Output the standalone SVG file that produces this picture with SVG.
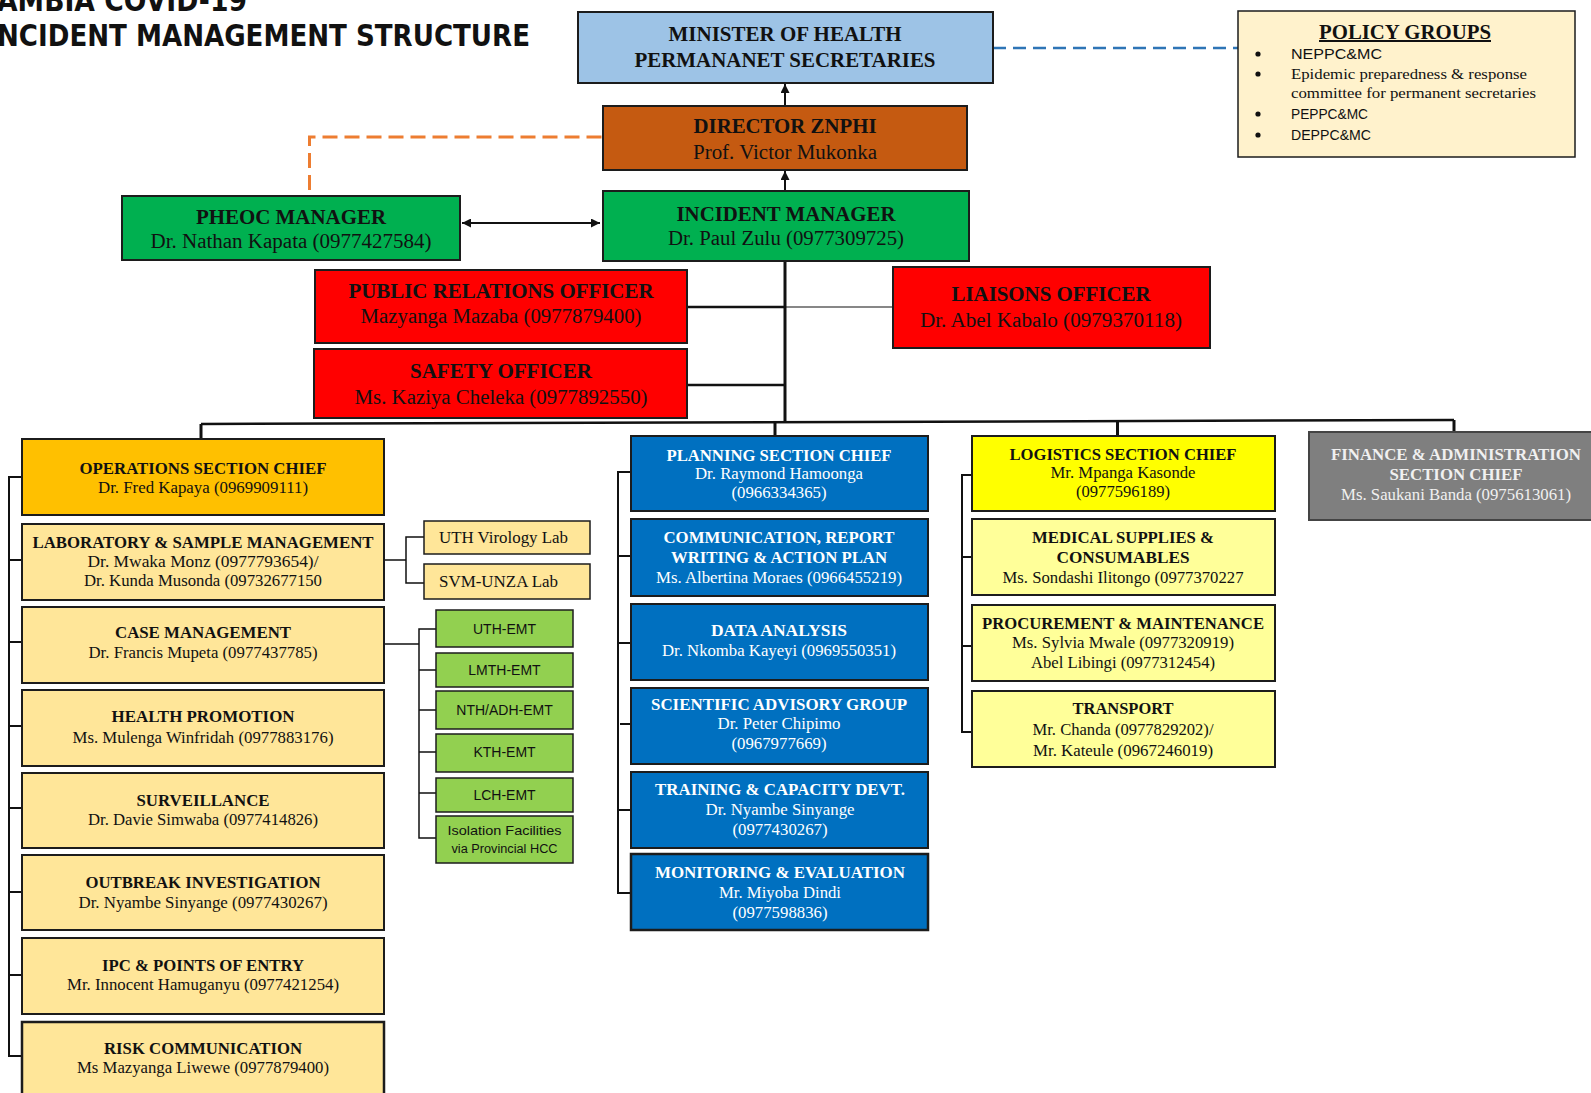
<svg xmlns="http://www.w3.org/2000/svg" width="1591" height="1093" viewBox="0 0 1591 1093">
<style>
.box{stroke:#1c1c1c;stroke-width:2}
.t{font-family:"Liberation Serif","Times New Roman",serif;text-anchor:middle;fill:#111}
.b{font-weight:bold}
.w{fill:#fff}
.g{fill:#f0f0f0}
.s{font-family:"Liberation Sans",Arial,sans-serif;fill:#111}
.f20{font-size:20px}
.f16{font-size:16px}
.f15{font-size:15px}
.f14{font-size:14px}
.ln{stroke:#111;fill:none}
</style>
<defs>
<marker id="arr" viewBox="0 0 10 10" refX="10" refY="5" markerWidth="10" markerHeight="9" markerUnits="userSpaceOnUse" orient="auto-start-reverse">
<path d="M0,0 L10,5 L0,10 z" fill="#111"/>
</marker>
</defs>
<rect width="1591" height="1093" fill="#fff"/>

<g id="title">
<text x="-3" y="11" font-family="'DejaVu Sans',Verdana,sans-serif" font-weight="bold" font-size="30" textLength="250" lengthAdjust="spacingAndGlyphs" fill="#111">AMBIA COVID-19</text>
<text x="-3" y="46" font-family="'DejaVu Sans',Verdana,sans-serif" font-weight="bold" font-size="30" textLength="533" lengthAdjust="spacingAndGlyphs" fill="#111">NCIDENT MANAGEMENT STRUCTURE</text>
</g>

<g id="connectors">
<path class="ln" d="M993,48 H1238" stroke="#2e75b6" style="stroke:#2e75b6" stroke-width="2.5" stroke-dasharray="13,7"/>
<path class="ln" d="M309.5,190 V137 H603" style="stroke:#ed7d31" stroke-width="3" stroke-dasharray="15,7"/>
<line x1="785" y1="106" x2="785" y2="84" class="ln" stroke-width="2" marker-end="url(#arr)"/>
<line x1="785" y1="191" x2="785" y2="171" class="ln" stroke-width="2" marker-end="url(#arr)"/>
<line x1="462" y1="223" x2="600" y2="223" class="ln" stroke-width="2" marker-start="url(#arr)" marker-end="url(#arr)"/>
<line x1="785" y1="261" x2="785" y2="423" class="ln" stroke-width="3"/>
<line x1="687" y1="307" x2="785" y2="307" class="ln" stroke-width="2.5"/>
<line x1="785" y1="307" x2="893" y2="307" class="ln" stroke-width="1.2"/>
<line x1="687" y1="385" x2="785" y2="385" class="ln" stroke-width="2.5"/>
<path class="ln" d="M201,424 L1454,420" stroke-width="2.5"/>
<line x1="201" y1="424" x2="201" y2="439" class="ln" stroke-width="3"/>
<line x1="775" y1="423" x2="775" y2="435" class="ln" stroke-width="3"/>
<line x1="1117.5" y1="421" x2="1117.5" y2="436" class="ln" stroke-width="3"/>
<line x1="1454" y1="420" x2="1454" y2="431" class="ln" stroke-width="3"/>
<path class="ln" stroke-width="2" d="M22,477 H9 V1056 H22 M9,560 H22 M9,642 H22 M9,726 H22 M9,808 H22 M9,892 H22 M9,975 H22"/>
<path class="ln" stroke-width="1.5" d="M384,560 H406 M424,537 H406 V583 H424"/>
<path class="ln" stroke-width="1.5" d="M384,644 H419 M436,629 H419 V838 H436 M419,670 H436 M419,710 H436 M419,752 H436 M419,793 H436"/>
<path class="ln" stroke-width="2" d="M631,472 H618 V893 H631 M618,556 H631 M618,643 H631 M620,724 H631 M618,810 H631"/>
<path class="ln" stroke-width="2" d="M972,475 H962 V732 H972 M962,557 H972 M962,646 H972"/>
</g>

<g id="minister">
<rect class="box" x="578" y="12" width="415" height="71" fill="#9dc3e6"/>
<text class="t b f20" x="785" y="41" textLength="233" lengthAdjust="spacingAndGlyphs">MINISTER OF HEALTH</text>
<text class="t b f20" x="785" y="67" textLength="301" lengthAdjust="spacingAndGlyphs">PERMANANET SECRETARIES</text>
</g>

<g id="policy-groups">
<rect class="box" x="1238" y="11" width="337" height="146" fill="#fff2cc" style="stroke-width:1.5"/>
<text class="t b f20" x="1405" y="39" text-decoration="underline" textLength="172" lengthAdjust="spacingAndGlyphs">POLICY GROUPS</text>
<circle cx="1258" cy="54" r="2.6" fill="#111"/>
<circle cx="1258" cy="74" r="2.6" fill="#111"/>
<circle cx="1258" cy="114" r="2.6" fill="#111"/>
<circle cx="1258" cy="135" r="2.6" fill="#111"/>
<text class="s f15" x="1291" y="59" textLength="91" lengthAdjust="spacingAndGlyphs">NEPPC&amp;MC</text>
<text class="t f15" x="1291" y="79" style="text-anchor:start" textLength="236" lengthAdjust="spacingAndGlyphs">Epidemic preparedness &amp; response</text>
<text class="t f15" x="1291" y="98" style="text-anchor:start" textLength="245" lengthAdjust="spacingAndGlyphs">committee for permanent secretaries</text>
<text class="s f15" x="1291" y="119" textLength="77" lengthAdjust="spacingAndGlyphs">PEPPC&amp;MC</text>
<text class="s f15" x="1291" y="140" textLength="80" lengthAdjust="spacingAndGlyphs">DEPPC&amp;MC</text>
</g>

<g id="director">
<rect class="box" x="603" y="106" width="364" height="64" fill="#c55a11"/>
<text class="t b f20" x="785" y="133" textLength="183" lengthAdjust="spacingAndGlyphs">DIRECTOR ZNPHI</text>
<text class="t f20" x="785" y="159" textLength="184" lengthAdjust="spacingAndGlyphs">Prof. Victor Mukonka</text>
</g>

<g id="incident-manager">
<rect class="box" x="603" y="191" width="366" height="70" fill="#00b050"/>
<text class="t b f20" x="786" y="221" textLength="219" lengthAdjust="spacingAndGlyphs">INCIDENT MANAGER</text>
<text class="t f20" x="786" y="245" textLength="236" lengthAdjust="spacingAndGlyphs">Dr. Paul Zulu (0977309725)</text>
</g>

<g id="pheoc-manager">
<rect class="box" x="122" y="196" width="338" height="64" fill="#00b050"/>
<text class="t b f20" x="291" y="224" textLength="190" lengthAdjust="spacingAndGlyphs">PHEOC MANAGER</text>
<text class="t f20" x="291" y="248" textLength="281" lengthAdjust="spacingAndGlyphs">Dr. Nathan Kapata (0977427584)</text>
</g>

<g id="public-relations-officer">
<rect class="box" x="315" y="270" width="372" height="73" fill="#ff0000"/>
<text class="t b f20" x="501" y="298" textLength="305" lengthAdjust="spacingAndGlyphs">PUBLIC RELATIONS OFFICER</text>
<text class="t f20" x="501" y="323" textLength="281" lengthAdjust="spacingAndGlyphs">Mazyanga Mazaba (0977879400)</text>
</g>

<g id="safety-officer">
<rect class="box" x="314" y="349" width="373" height="69" fill="#ff0000"/>
<text class="t b f20" x="501" y="378" textLength="182" lengthAdjust="spacingAndGlyphs">SAFETY OFFICER</text>
<text class="t f20" x="501" y="404" textLength="293" lengthAdjust="spacingAndGlyphs">Ms. Kaziya Cheleka (0977892550)</text>
</g>

<g id="liaisons-officer">
<rect class="box" x="893" y="267" width="317" height="81" fill="#ff0000"/>
<text class="t b f20" x="1051" y="301" textLength="199" lengthAdjust="spacingAndGlyphs">LIAISONS OFFICER</text>
<text class="t f20" x="1051" y="327" textLength="262" lengthAdjust="spacingAndGlyphs">Dr. Abel Kabalo (0979370118)</text>
</g>

<g id="operations-section-chief">
<rect class="box" x="22" y="439" width="362" height="76" fill="#ffc000"/>
<text class="t b f16" x="203" y="474" textLength="247" lengthAdjust="spacingAndGlyphs">OPERATIONS SECTION CHIEF</text>
<text class="t f16" x="203" y="493" textLength="210" lengthAdjust="spacingAndGlyphs">Dr. Fred Kapaya (0969909111)</text>
</g>

<g id="laboratory">
<rect class="box" x="22" y="524" width="362" height="76" fill="#ffe699"/>
<text class="t b f16" x="203" y="548" textLength="341" lengthAdjust="spacingAndGlyphs">LABORATORY &amp; SAMPLE MANAGEMENT</text>
<text class="t f16" x="203" y="567" textLength="231" lengthAdjust="spacingAndGlyphs">Dr. Mwaka Monz (0977793654)/</text>
<text class="t f16" x="203" y="586" textLength="238" lengthAdjust="spacingAndGlyphs">Dr. Kunda Musonda (09732677150</text>
</g>

<g id="case-management">
<rect class="box" x="22" y="607" width="362" height="76" fill="#ffe699"/>
<text class="t b f16" x="203" y="638" textLength="176" lengthAdjust="spacingAndGlyphs">CASE MANAGEMENT</text>
<text class="t f16" x="203" y="658" textLength="229" lengthAdjust="spacingAndGlyphs">Dr. Francis Mupeta (0977437785)</text>
</g>

<g id="health-promotion">
<rect class="box" x="22" y="690" width="362" height="76" fill="#ffe699"/>
<text class="t b f16" x="203" y="722" textLength="183" lengthAdjust="spacingAndGlyphs">HEALTH PROMOTION</text>
<text class="t f16" x="203" y="743" textLength="261" lengthAdjust="spacingAndGlyphs">Ms. Mulenga Winfridah (0977883176)</text>
</g>

<g id="surveillance">
<rect class="box" x="22" y="773" width="362" height="75" fill="#ffe699"/>
<text class="t b f16" x="203" y="806" textLength="133" lengthAdjust="spacingAndGlyphs">SURVEILLANCE</text>
<text class="t f16" x="203" y="825" textLength="230" lengthAdjust="spacingAndGlyphs">Dr. Davie Simwaba (0977414826)</text>
</g>

<g id="outbreak-investigation">
<rect class="box" x="22" y="855" width="362" height="75" fill="#ffe699"/>
<text class="t b f16" x="203" y="888" textLength="235" lengthAdjust="spacingAndGlyphs">OUTBREAK INVESTIGATION</text>
<text class="t f16" x="203" y="908" textLength="249" lengthAdjust="spacingAndGlyphs">Dr. Nyambe Sinyange (0977430267)</text>
</g>

<g id="ipc">
<rect class="box" x="22" y="938" width="362" height="76" fill="#ffe699"/>
<text class="t b f16" x="203" y="971" textLength="202" lengthAdjust="spacingAndGlyphs">IPC &amp; POINTS OF ENTRY</text>
<text class="t f16" x="203" y="990" textLength="272" lengthAdjust="spacingAndGlyphs">Mr. Innocent Hamuganyu (0977421254)</text>
</g>

<g id="risk-communication">
<rect class="box" x="22" y="1022" width="362" height="80" fill="#ffe699" style="stroke-width:2.5"/>
<text class="t b f16" x="203" y="1054" textLength="198" lengthAdjust="spacingAndGlyphs">RISK COMMUNICATION</text>
<text class="t f16" x="203" y="1073" textLength="252" lengthAdjust="spacingAndGlyphs">Ms Mazyanga Liwewe (0977879400)</text>
</g>

<g id="uth-virology-lab">
<rect class="box" x="424" y="521" width="166" height="33" fill="#ffe699" style="stroke-width:1.5"/>
<text class="t f16" x="439" y="543" style="text-anchor:start" textLength="129" lengthAdjust="spacingAndGlyphs">UTH Virology Lab</text>
</g>
<g id="svm-unza-lab">
<rect class="box" x="424" y="564" width="166" height="35" fill="#ffe699" style="stroke-width:1.5"/>
<text class="t f16" x="439" y="587" style="text-anchor:start" textLength="119" lengthAdjust="spacingAndGlyphs">SVM-UNZA Lab</text>
</g>

<g id="uth-emt">
<rect class="box" x="436" y="610" width="137" height="37" fill="#92d050" style="stroke-width:1.5"/>
<text class="s f14" x="504.5" y="634" text-anchor="middle">UTH-EMT</text>
</g>
<g id="lmth-emt">
<rect class="box" x="436" y="653" width="137" height="34" fill="#92d050" style="stroke-width:1.5"/>
<text class="s f14" x="504.5" y="675" text-anchor="middle">LMTH-EMT</text>
</g>
<g id="nth-adh-emt">
<rect class="box" x="436" y="691" width="137" height="38" fill="#92d050" style="stroke-width:1.5"/>
<text class="s f14" x="504.5" y="715" text-anchor="middle">NTH/ADH-EMT</text>
</g>
<g id="kth-emt">
<rect class="box" x="436" y="734" width="137" height="38" fill="#92d050" style="stroke-width:1.5"/>
<text class="s f14" x="504.5" y="757" text-anchor="middle">KTH-EMT</text>
</g>
<g id="lch-emt">
<rect class="box" x="436" y="778" width="137" height="34" fill="#92d050" style="stroke-width:1.5"/>
<text class="s f14" x="504.5" y="800" text-anchor="middle">LCH-EMT</text>
</g>
<g id="isolation-facilities">
<rect class="box" x="436" y="816" width="137" height="47" fill="#92d050" style="stroke-width:1.5"/>
<text class="s" font-size="13" x="504.5" y="835" text-anchor="middle" textLength="114" lengthAdjust="spacingAndGlyphs">Isolation Facilities</text>
<text class="s" font-size="12" x="504.5" y="853" text-anchor="middle" textLength="106" lengthAdjust="spacingAndGlyphs">via Provincial HCC</text>
</g>

<g id="planning-section-chief">
<rect class="box" x="631" y="436" width="297" height="75" fill="#0070c0"/>
<text class="t b w f16" x="779" y="461" textLength="225" lengthAdjust="spacingAndGlyphs">PLANNING SECTION CHIEF</text>
<text class="t w f16" x="779" y="479" textLength="168" lengthAdjust="spacingAndGlyphs">Dr. Raymond Hamoonga</text>
<text class="t w f16" x="779" y="498" textLength="95" lengthAdjust="spacingAndGlyphs">(0966334365)</text>
</g>

<g id="communication">
<rect class="box" x="631" y="519" width="297" height="77" fill="#0070c0"/>
<text class="t b w f16" x="779" y="543" textLength="231" lengthAdjust="spacingAndGlyphs">COMMUNICATION, REPORT</text>
<text class="t b w f16" x="779" y="563" textLength="216" lengthAdjust="spacingAndGlyphs">WRITING &amp; ACTION PLAN</text>
<text class="t w f16" x="779" y="583" textLength="246" lengthAdjust="spacingAndGlyphs">Ms. Albertina Moraes (0966455219)</text>
</g>

<g id="data-analysis">
<rect class="box" x="631" y="604" width="297" height="76" fill="#0070c0"/>
<text class="t b w f16" x="779" y="636" textLength="136" lengthAdjust="spacingAndGlyphs">DATA ANALYSIS</text>
<text class="t w f16" x="779" y="656" textLength="234" lengthAdjust="spacingAndGlyphs">Dr. Nkomba Kayeyi (0969550351)</text>
</g>

<g id="scientific-advisory-group">
<rect class="box" x="631" y="688" width="297" height="76" fill="#0070c0"/>
<text class="t b w f16" x="779" y="710" textLength="256" lengthAdjust="spacingAndGlyphs">SCIENTIFIC ADVISORY GROUP</text>
<text class="t w f16" x="779" y="729" textLength="123" lengthAdjust="spacingAndGlyphs">Dr. Peter Chipimo</text>
<text class="t w f16" x="779" y="749" textLength="95" lengthAdjust="spacingAndGlyphs">(0967977669)</text>
</g>

<g id="training">
<rect class="box" x="631" y="772" width="297" height="76" fill="#0070c0"/>
<text class="t b w f16" x="780" y="795" textLength="250" lengthAdjust="spacingAndGlyphs">TRAINING &amp; CAPACITY DEVT.</text>
<text class="t w f16" x="780" y="815" textLength="149" lengthAdjust="spacingAndGlyphs">Dr. Nyambe Sinyange</text>
<text class="t w f16" x="780" y="835" textLength="95" lengthAdjust="spacingAndGlyphs">(0977430267)</text>
</g>

<g id="monitoring-evaluation">
<rect class="box" x="631" y="854" width="297" height="76" fill="#0070c0" style="stroke-width:2.5"/>
<text class="t b w f16" x="780" y="878" textLength="250" lengthAdjust="spacingAndGlyphs">MONITORING &amp; EVALUATION</text>
<text class="t w f16" x="780" y="898" textLength="122" lengthAdjust="spacingAndGlyphs">Mr. Miyoba Dindi</text>
<text class="t w f16" x="780" y="918" textLength="95" lengthAdjust="spacingAndGlyphs">(0977598836)</text>
</g>

<g id="logistics-section-chief">
<rect class="box" x="972" y="436" width="303" height="75" fill="#ffff00"/>
<text class="t b f16" x="1123" y="460" textLength="227" lengthAdjust="spacingAndGlyphs">LOGISTICS SECTION CHIEF</text>
<text class="t f16" x="1123" y="478" textLength="145" lengthAdjust="spacingAndGlyphs">Mr. Mpanga Kasonde</text>
<text class="t f16" x="1123" y="497" textLength="94" lengthAdjust="spacingAndGlyphs">(0977596189)</text>
</g>

<g id="medical-supplies">
<rect class="box" x="972" y="519" width="303" height="76" fill="#ffff99"/>
<text class="t b f16" x="1123" y="543" textLength="182" lengthAdjust="spacingAndGlyphs">MEDICAL SUPPLIES &amp;</text>
<text class="t b f16" x="1123" y="563" textLength="133" lengthAdjust="spacingAndGlyphs">CONSUMABLES</text>
<text class="t f16" x="1123" y="583" textLength="241" lengthAdjust="spacingAndGlyphs">Ms. Sondashi Ilitongo (0977370227</text>
</g>

<g id="procurement">
<rect class="box" x="972" y="605" width="303" height="76" fill="#ffff99"/>
<text class="t b f16" x="1123" y="629" textLength="282" lengthAdjust="spacingAndGlyphs">PROCUREMENT &amp; MAINTENANCE</text>
<text class="t f16" x="1123" y="648" textLength="222" lengthAdjust="spacingAndGlyphs">Ms. Sylvia Mwale (0977320919)</text>
<text class="t f16" x="1123" y="668" textLength="184" lengthAdjust="spacingAndGlyphs">Abel Libingi (0977312454)</text>
</g>

<g id="transport">
<rect class="box" x="972" y="691" width="303" height="76" fill="#ffff99"/>
<text class="t b f16" x="1123" y="714" textLength="101" lengthAdjust="spacingAndGlyphs">TRANSPORT</text>
<text class="t f16" x="1123" y="735" textLength="181" lengthAdjust="spacingAndGlyphs">Mr. Chanda (0977829202)/</text>
<text class="t f16" x="1123" y="756" textLength="180" lengthAdjust="spacingAndGlyphs">Mr. Kateule (0967246019)</text>
</g>

<g id="finance-administration">
<rect class="box" x="1309" y="432" width="290" height="88" fill="#7f7f7f" style="stroke:#444"/>
<text class="t b g f16" x="1456" y="460" textLength="250" lengthAdjust="spacingAndGlyphs">FINANCE &amp; ADMINISTRATION</text>
<text class="t b g f16" x="1456" y="480" textLength="133" lengthAdjust="spacingAndGlyphs">SECTION CHIEF</text>
<text class="t g f16" x="1456" y="500" textLength="230" lengthAdjust="spacingAndGlyphs">Ms. Saukani Banda (0975613061)</text>
</g>
</svg>
